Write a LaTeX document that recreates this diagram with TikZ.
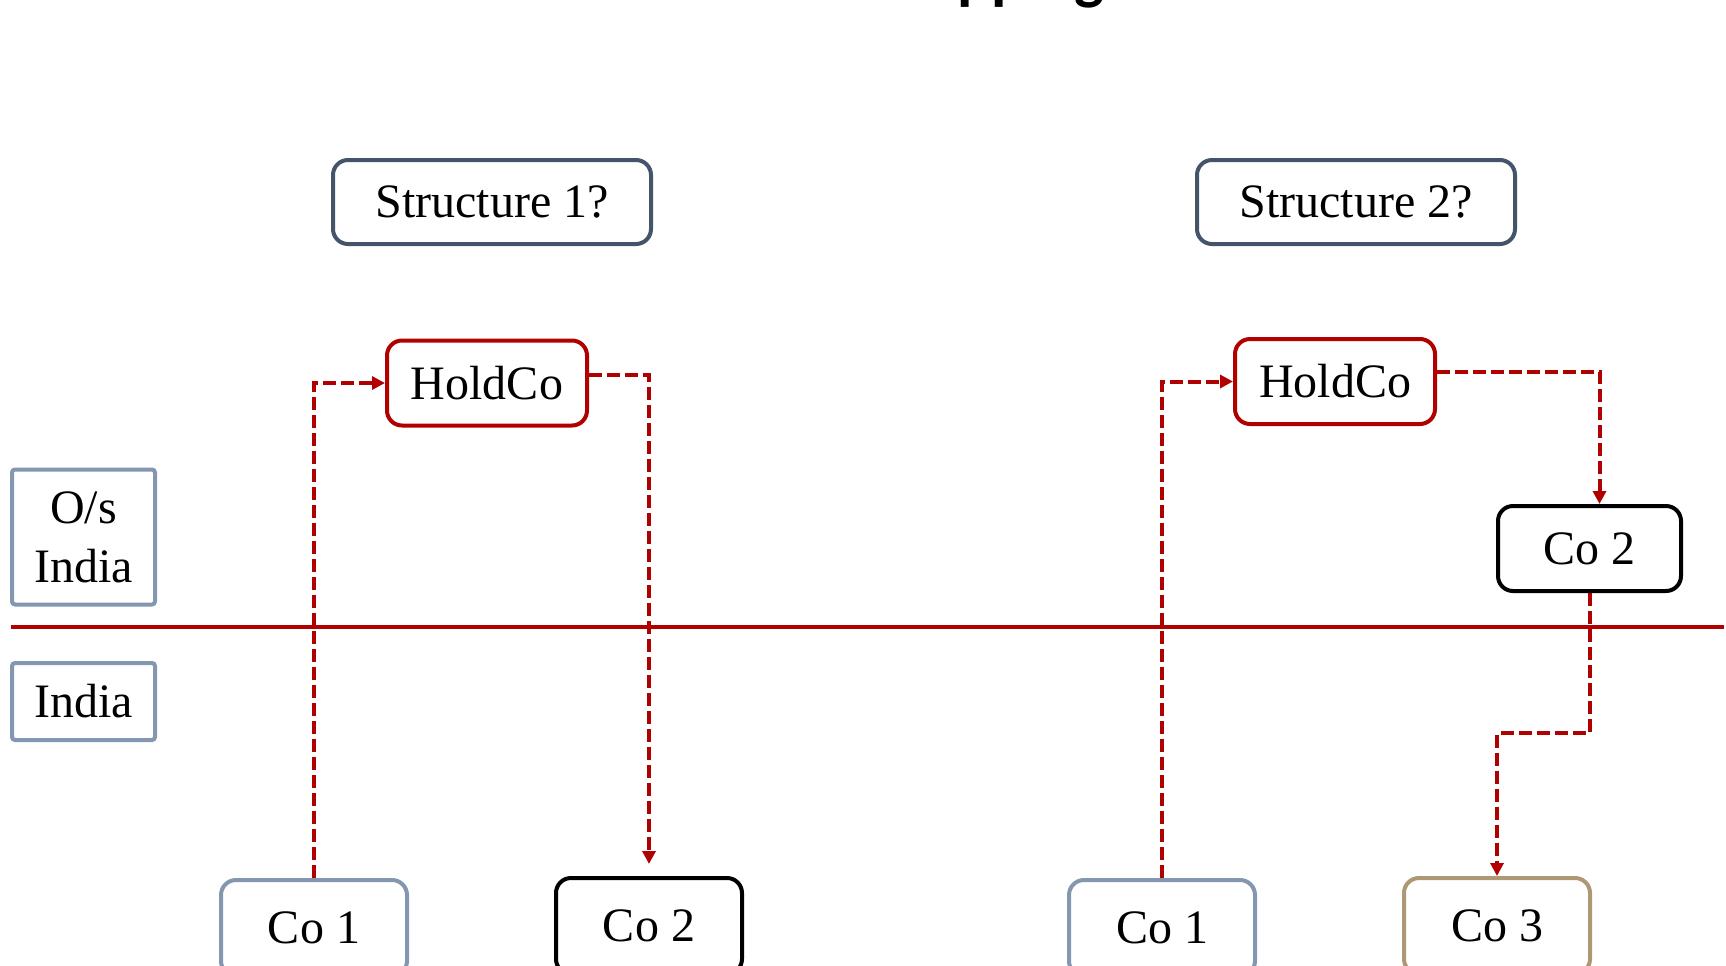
\documentclass[tikz,border=0pt]{standalone}
\usepackage{fontspec}
\setmainfont{Liberation Serif}
\newfontfamily\titlefont{Carlito}
\usetikzlibrary{arrows.meta}
\definecolor{slate}{HTML}{44546A}
\definecolor{darkred}{HTML}{B00000}
\definecolor{bluegrey}{HTML}{8497B0}
\definecolor{tan}{HTML}{AE9874}
\tikzset{
  box/.style={draw, line width=2pt, rounded corners=7.5pt, inner sep=0pt,
    font=\fontsize{24}{29.5}\selectfont, align=center, fill=white},
  headbox/.style={box, draw=slate, minimum width=159pt, minimum height=42pt},
  holdbox/.style={box, draw=darkred, minimum width=100pt, minimum height=42.5pt},
  cobox/.style={box, minimum width=93pt, minimum height=48pt},
  regionbox/.style={box, draw=bluegrey, rounded corners=1.5pt, minimum width=71.5pt},
  flow/.style={draw=darkred, line width=2pt, dash pattern=on 6.5pt off 2.5pt,
    -{Triangle[length=6.5pt,width=6.5pt]}},
  border/.style={draw=darkred, line width=1.75pt}
}
\begin{document}
\begin{tikzpicture}[x=0.5pt, y=-0.5pt]
  \useasboundingbox (0,0) rectangle (1726,965);
  \clip (0,0) rectangle (1726,965);

  % heading, mostly above the frame
  \node[anchor=base, font=\titlefont\bfseries\fontsize{31.5}{36}\selectfont, inner sep=0pt]
    (title) at (906,-3) {Round Tripping};

  % border between offshore and India
  \coordinate (lineL) at (11,627);
  \coordinate (lineR) at (1724,627);
  \draw[border] (lineL) -- (lineR);

  % region labels
  \node[regionbox, minimum height=67.5pt] (osi) at (83.5,537) {O/s\\India};
  \node[regionbox, minimum height=38.5pt] (ind) at (83.5,701.5) {India};

  % structure 1
  \node[headbox] (s1) at (492,202) {Structure 1?};
  \node[holdbox] (h1) at (487,383) {HoldCo};
  \node[cobox, draw=bluegrey] (c1a) at (314,928) {Co 1};
  \node[cobox, draw=black] (c2a) at (649,926) {Co 2};

  % structure 2
  \node[headbox] (s2) at (1356,202) {Structure 2?};
  \node[holdbox] (h2) at (1335,381.5) {HoldCo};
  \node[box, draw=black, minimum width=91.5pt, minimum height=42.5pt] (c2b) at (1589.5,548.5) {Co 2};
  \node[cobox, draw=bluegrey] (c1b) at (1162,928) {Co 1};
  \node[cobox, draw=tan] (c3b) at (1497,926) {Co 3};

  % flows
  \draw[flow] (c1a.north) |- (h1.west);
  \draw[flow, shorten >=6pt] ([yshift=4pt]h1.east) -| (c2a.north);
  \draw[flow] (c1b.north) |- (h2.west);
  \draw[flow] ([yshift=5pt]h2.east) -| ([xshift=5pt]c2b.north);
  \draw[flow] (c2b.south) -- ++(0,140) -| (c3b.north);
\end{tikzpicture}
\end{document}
